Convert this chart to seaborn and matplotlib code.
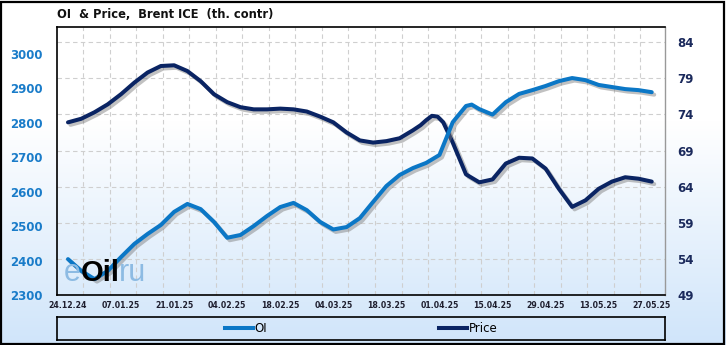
import numpy as np
import pandas as pd
import matplotlib
matplotlib.use("Agg")
import matplotlib.pyplot as plt
import seaborn as sns
from matplotlib import patheffects as pe
from matplotlib.lines import Line2D
from matplotlib.patches import Rectangle
from matplotlib.colors import LinearSegmentedColormap

# ---- data (days since 24.12.24) ----
days_oi = [0, 3.5, 7, 10.5, 14, 17.5, 21, 24.5, 28, 31.5, 35, 38.5, 42, 45.5, 49,
           52.5, 56, 59.5, 63, 66.5, 70, 73.5, 77, 80.5, 84, 87.5, 91, 94.5, 98,
           101.5, 105, 106.5, 108.5, 112, 115.5, 119, 122.5, 126, 129.5, 133, 136.5,
           140, 143.5, 147, 150.5, 154]
oi = [2404, 2370, 2346, 2370, 2410, 2448, 2477, 2503, 2541, 2564, 2549, 2512,
      2466, 2474, 2500, 2529, 2555, 2567, 2546, 2512, 2490, 2497, 2523, 2570,
      2616, 2648, 2668, 2683, 2706, 2801, 2848, 2852, 2839, 2823, 2859, 2883, 2894,
      2906, 2920, 2929, 2923, 2909, 2903, 2897, 2894, 2888]
days_price = [0, 3.5, 7, 10.5, 14, 17.5, 21, 24.5, 28, 31.5, 35, 38.5, 42, 45.5,
              49, 52.5, 56, 59.5, 63, 66.5, 70, 73.5, 77, 80.5, 84, 87.5, 91, 93,
              94.5, 96, 97.5, 99, 101.5, 105, 108.5, 112, 115.5, 119, 122.5, 126,
              129.5, 133, 136.5, 140, 143.5, 147, 150.5, 154]
price = [72.9, 73.4, 74.3, 75.4, 76.8, 78.4, 79.8, 80.7, 80.8, 80.0, 78.6, 76.8,
         75.7, 75.0, 74.7, 74.7, 74.8, 74.7, 74.4, 73.7, 72.9, 71.5, 70.4, 70.1,
         70.3, 70.7, 71.8, 72.5, 73.2, 73.8, 73.7, 72.9, 70.1, 65.7, 64.6, 65.0,
         67.2, 68.0, 67.9, 66.5, 63.7, 61.2, 62.1, 63.7, 64.7, 65.3, 65.1, 64.7]
tick_labels = ["24.12.24", "07.01.25", "21.01.25", "04.02.25", "18.02.25",
               "04.03.25", "18.03.25", "01.04.25", "15.04.25", "29.04.25",
               "13.05.25", "27.05.25"]
left_ticks = [2300, 2400, 2500, 2600, 2700, 2800, 2900, 3000]
right_ticks = [49, 54, 59, 64, 69, 74, 79, 84]

df_oi = pd.DataFrame({"day": days_oi, "OI": oi})
df_price = pd.DataFrame({"day": days_price, "Price": price})

OI_COLOR = "#0b77c6"
PRICE_COLOR = "#0a2463"
LW = 2.9

W, H = 726, 345
fig = plt.figure(figsize=(W / 100, H / 100), dpi=100)

# background gradient
bg = fig.add_axes([0, 0, 1, 1], zorder=-10)
cmap = LinearSegmentedColormap.from_list(
    "bg", [(0, "#ffffff"), (0.35, "#ffffff"), (1, "#d0e5fa")])
bg.imshow(np.linspace(0, 1, 256)[:, None], aspect="auto", cmap=cmap,
          extent=[0, 1, 0, 1], origin="upper")
bg.set_axis_off()

pos = [57 / W, (H - 295) / H, (665 - 57) / W, (295 - 27) / H]
xlim = (-2.9, 157.5)
ylim_l = (2300, 3077)
ylim_r = (49, 86.1)

# grid axes
gax = fig.add_axes(pos, zorder=0)
gax.patch.set_alpha(0)
gax.set_xlim(*xlim)
gax.set_ylim(*ylim_r)
gax.set_yticks(right_ticks)
gax.set_xticks(np.arange(4, 155, 7))
gax.grid(True, color="#cfcfcf", ls=(0, (4, 3)), lw=0.8)
gax.tick_params(length=0, labelleft=False, labelbottom=False)
for s in gax.spines.values():
    s.set_visible(False)

shadow = [pe.SimpleLineShadow(offset=(1.8, -1.8), shadow_color="#777777", alpha=0.45),
          pe.Normal()]

# price axes (right)
pax = fig.add_axes(pos, zorder=1)
pax.patch.set_alpha(0)
sns.lineplot(data=df_price, x="day", y="Price", ax=pax, color=PRICE_COLOR, lw=LW,
             solid_capstyle="round", solid_joinstyle="round")
pax.lines[0].set_path_effects(shadow)
pax.set_xlim(*xlim)
pax.set_ylim(*ylim_r)
pax.yaxis.tick_right()
pax.set_yticks(right_ticks)
pax.set_xticks([])
pax.set_xlabel("")
pax.set_ylabel("")
pax.tick_params(axis="y", length=0, pad=9, labelsize=8.5, labelcolor="#1b2a5c")
for t in pax.get_yticklabels():
    t.set_fontweight("bold")
for s in pax.spines.values():
    s.set_visible(False)

# OI axes (left)
oax = fig.add_axes(pos, zorder=2)
oax.patch.set_alpha(0)
sns.lineplot(data=df_oi, x="day", y="OI", ax=oax, color=OI_COLOR, lw=LW,
             solid_capstyle="round", solid_joinstyle="round")
oax.lines[0].set_path_effects(shadow)
oax.set_xlim(*xlim)
oax.set_ylim(*ylim_l)
oax.set_yticks(left_ticks)
oax.set_xticks([14 * i for i in range(len(tick_labels))])
oax.set_xticklabels(tick_labels)
oax.set_xlabel("")
oax.set_ylabel("")
oax.tick_params(axis="y", length=0, pad=10, labelsize=8.5, labelcolor="#1a7cc9")
oax.tick_params(axis="x", length=0, pad=4, labelsize=5.6, labelcolor="#1e1e2e")
for t in oax.get_yticklabels() + oax.get_xticklabels():
    t.set_fontweight("bold")
for k in ["left", "top", "bottom"]:
    oax.spines[k].set_color("black")
    oax.spines[k].set_linewidth(1.2)
oax.spines["right"].set_color("#999999")
oax.spines["right"].set_linewidth(1.0)

# watermark
wy = (H - 281) / H
fig.text(64 / W, wy, "e", fontsize=22, color="#8dbbe3", family="Liberation Sans",
         va="baseline", zorder=5)
fig.text(81 / W, wy, "Oil", fontsize=21, color="black", family="Liberation Sans",
         fontweight="bold", va="baseline", zorder=5)
fig.text(119 / W, wy, "ru", fontsize=22, color="#8dbbe3", family="Liberation Sans",
         va="baseline", zorder=5)

# title
fig.text(57 / W, (H - 15) / H, "OI  & Price,  Brent ICE  (th. contr)",
         fontsize=8.3, fontweight="bold", color="#111111", va="center", ha="left")

# legend box
lax = fig.add_axes([57 / W, (H - 340) / H, (665 - 57) / W, 23 / H], zorder=3)
lax.patch.set_alpha(0)
lax.set_xticks([])
lax.set_yticks([])
for s in lax.spines.values():
    s.set_color("black")
    s.set_linewidth(1.2)
handles = [Line2D([], [], color=OI_COLOR, lw=LW), Line2D([], [], color=PRICE_COLOR, lw=LW)]
lax.legend(handles, ["OI", "Price"], loc="center", ncol=2, frameon=False,
           fontsize=8.5, handlelength=2.4, handletextpad=0.15, columnspacing=14.5,
           borderaxespad=0, borderpad=0)

# figure border
fig.patches.append(Rectangle((0.0015, 0.003), 0.9955, 0.992, transform=fig.transFigure,
                             fill=False, ec="black", lw=1.6, zorder=10))

fig.savefig("out.png", dpi=100)
